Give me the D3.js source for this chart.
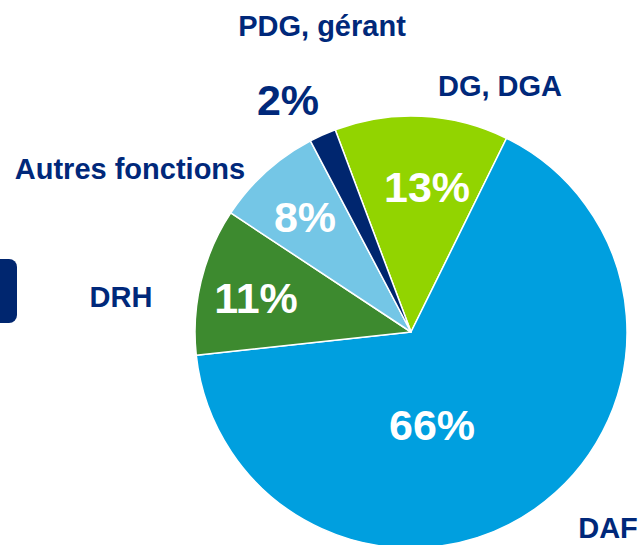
<!DOCTYPE html>
<html>
<head>
<meta charset="utf-8">
<script src="https://cdn.jsdelivr.net/npm/d3@7"></script>
<style>
  body { margin: 0; background: #fff; }
  svg { display: block; }
  text { font-family: "Liberation Sans", Arial, sans-serif; font-weight: bold; }
</style>
</head>
<body>
<div id="chart"></div>
<script>
// fonctions, clockwise from the top of the pie
var categories = ["DG, DGA", "DAF", "DRH", "Autres fonctions", "PDG, gérant"];
var values = [13, 66, 11, 8, 2];
var pctLabels = ["13%", "66%", "11%", "8%", "2%"];
var colors = ["#92d400", "#009fdf", "#3d8a2f", "#74c6e6", "#00266f"];

var width = 644, height = 545,
    cx = 411, cy = 332, radius = 216,
    navy = "#00287a";

// label placement (relative to pie centre)
var catPos = [[89, -246], [197, 196], [-290, -35], [-281, -163], [-89, -306]];
var pctPos = [[16, -145], [21, 93], [-155, -34], [-106, -115], [-123, -232]];
var pctFill = ["#fff", "#fff", "#fff", "#fff", navy];

var svg = d3.select("#chart").append("svg")
    .attr("width", width)
    .attr("height", height);

// rounded tab cut off at the left edge
svg.append("rect")
    .attr("x", -10).attr("y", 259)
    .attr("width", 27).attr("height", 64)
    .attr("rx", 8)
    .attr("fill", "#00266f");

var pie = d3.pie()
    .sort(null)
    .startAngle(-20.55 * Math.PI / 180)
    .endAngle(-20.55 * Math.PI / 180 + 2 * Math.PI);

var arc = d3.arc().innerRadius(0).outerRadius(radius);

var g = svg.append("g").attr("transform", "translate(" + cx + "," + cy + ")");

g.selectAll(".slice")
    .data(pie(values))
    .enter()
    .append("path")
    .classed("slice", true)
    .attr("d", arc)
    .attr("fill", function(d, i){ return colors[i]; })
    .attr("stroke", "#fff")
    .attr("stroke-width", 1.5)
    .attr("stroke-linejoin", "round");

g.selectAll(".pct")
    .data(pctLabels)
    .enter()
    .append("text")
    .classed("pct", true)
    .attr("x", function(d, i){ return pctPos[i][0]; })
    .attr("y", function(d, i){ return pctPos[i][1]; })
    .attr("text-anchor", "middle")
    .attr("dominant-baseline", "central")
    .style("font-size", "43px")
    .attr("fill", function(d, i){ return pctFill[i]; })
    .text(function(d){ return d; });

g.selectAll(".cat")
    .data(categories)
    .enter()
    .append("text")
    .classed("cat", true)
    .attr("x", function(d, i){ return catPos[i][0]; })
    .attr("y", function(d, i){ return catPos[i][1]; })
    .attr("text-anchor", "middle")
    .attr("dominant-baseline", "central")
    .style("font-size", "29px")
    .attr("fill", navy)
    .text(function(d){ return d; });
</script>
</body>
</html>
